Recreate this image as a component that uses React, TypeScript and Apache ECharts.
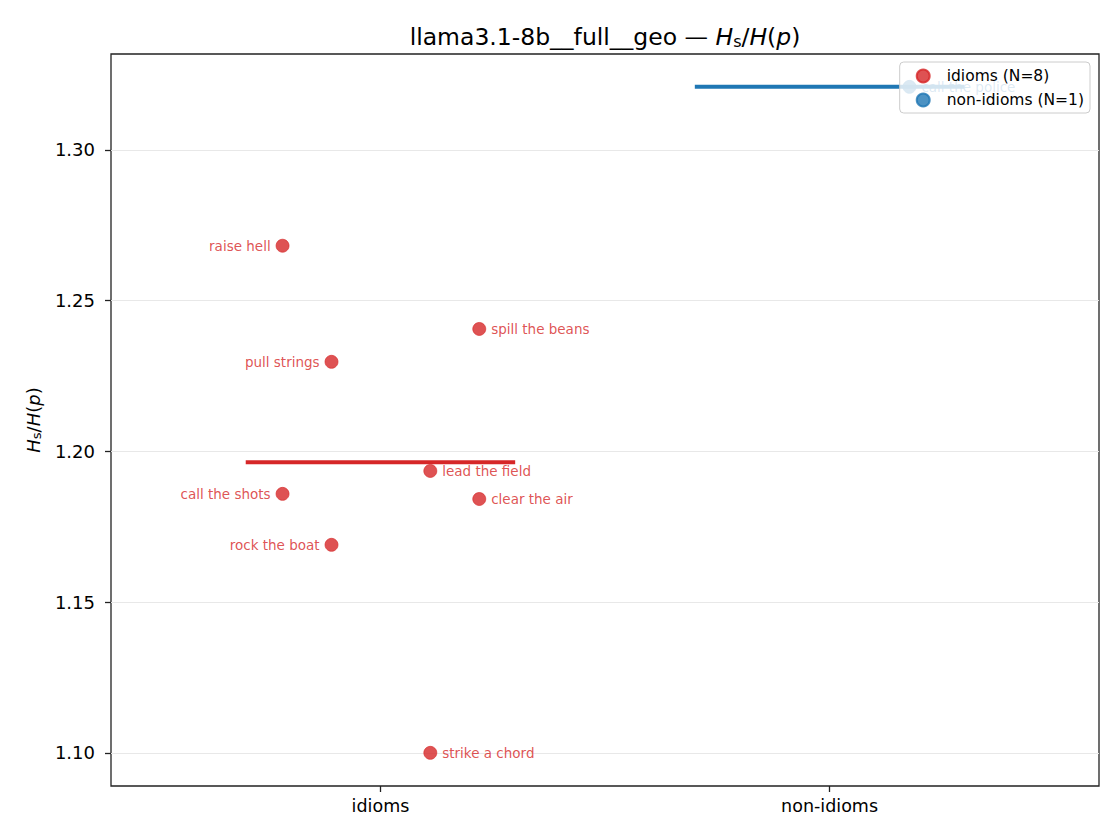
import { useEffect, useRef } from 'react';
import * as echarts from 'echarts';

const categories = ['idioms', 'non-idioms'];
const idiomNames = ['raise hell', 'spill the beans', 'pull strings', 'lead the field', 'call the shots', 'clear the air', 'rock the boat', 'strike a chord'];
const idiomOffsets = [-0.218, 0.22, -0.109, 0.111, -0.218, 0.22, -0.109, 0.111];
const idiomValues = [1.2682, 1.2406, 1.2297, 1.1935, 1.1859, 1.1842, 1.169, 1.1];
const nonIdiomNames = ['call the police'];
const nonIdiomOffsets = [0.178];
const nonIdiomValues = [1.3209];
const yTicks = [1.1, 1.15, 1.2, 1.25, 1.3];

const RED = '#d62728';
const BLUE = '#1f77b4';
const FONT = 'DejaVu Sans';

const mean = (a: number[]) => a.reduce((s, v) => s + v, 0) / a.length;

const points = (names: string[], offsets: number[], values: number[], cat: number) =>
  names.map((name, i) => ({
    name,
    value: [cat + offsets[i], values[i]],
    label: { position: offsets[i] < 0 ? 'left' : 'right' },
  }));

const App = () => {
  const ref = useRef<HTMLDivElement>(null);

  useEffect(() => {
    if (!ref.current) return;
    const chart = echarts.init(ref.current, null, { renderer: 'svg' });

    const groups = [
      { name: `idioms (N=${idiomValues.length})`, color: RED, data: points(idiomNames, idiomOffsets, idiomValues, 0), m: mean(idiomValues), cat: 0 },
      { name: `non-idioms (N=${nonIdiomValues.length})`, color: BLUE, data: points(nonIdiomNames, nonIdiomOffsets, nonIdiomValues, 1), m: mean(nonIdiomValues), cat: 1 },
    ];

    chart.setOption({
      animation: false,
      textStyle: { fontFamily: FONT },
      title: {
        text: 'llama3.1-8b__full__geo — {it|H}{sub|s}{n|/}{it|H}{n|(}{it|p}{n|)}',
        left: 600,
        top: 20,
        textAlign: 'center',
        textStyle: {
          fontFamily: FONT,
          fontSize: 23.5,
          fontWeight: 'normal',
          color: '#000',
          rich: {
            it: { fontFamily: FONT, fontSize: 23.5, fontStyle: 'italic', color: '#000' },
            n: { fontFamily: FONT, fontSize: 23.5, color: '#000' },
            sub: { fontFamily: FONT, fontSize: 16, color: '#000', padding: [8, 0, 0, 0] },
          },
        },
      },
      legend: {
        data: groups.map((g) => g.name),
        right: 30,
        top: 62,
        z: 20,
        orient: 'vertical',
        icon: 'circle',
        itemWidth: 13,
        itemHeight: 13,
        itemGap: 8,
        padding: [6, 6, 5, 16],
        backgroundColor: 'rgba(255,255,255,0.8)',
        borderColor: '#cccccc',
        borderWidth: 1,
        borderRadius: 4,
        itemStyle: { opacity: 0.8 },
        textStyle: { fontFamily: FONT, fontSize: 15.5, color: '#000', padding: [0, 0, 0, 12] },
      },
      grid: {
        left: 111,
        right: 21,
        top: 54,
        bottom: 54,
        show: true,
        borderColor: '#222',
        borderWidth: 1.3,
        backgroundColor: 'transparent',
      },
      xAxis: {
        type: 'value',
        min: -0.6,
        max: 1.6,
        axisLine: { show: false, onZero: false },
        splitLine: { show: false },
        axisTick: { show: true, length: 6, customValues: [0, 1], lineStyle: { color: '#222', width: 1.3 } },
        axisLabel: {
          customValues: [0, 1],
          margin: 11,
          fontSize: 17.5,
          color: '#000',
          fontFamily: FONT,
          formatter: (v: number) => categories[Math.round(v)] ?? '',
        },
      },
      yAxis: {
        type: 'value',
        min: 1.089,
        max: 1.3318,
        name: '{it|H}{sub|s}{n|/}{it|H}{n|(}{it|p}{n|)}',
        nameLocation: 'middle',
        nameGap: 68,
        nameRotate: 90,
        nameTextStyle: {
          fontFamily: FONT,
          fontSize: 18,
          color: '#000',
          rich: {
            it: { fontFamily: FONT, fontSize: 18, fontStyle: 'italic', color: '#000' },
            n: { fontFamily: FONT, fontSize: 18, color: '#000' },
            sub: { fontFamily: FONT, fontSize: 13, color: '#000', padding: [6, 0, 0, 0] },
          },
        },
        axisLine: { show: false, onZero: false },
        splitLine: { show: true, lineStyle: { color: '#e8e8e8', width: 1.2 } },
        axisTick: { show: true, length: 6, customValues: yTicks, lineStyle: { color: '#222', width: 1.3 } },
        axisLabel: {
          customValues: yTicks,
          margin: 16,
          fontSize: 18,
          color: '#000',
          fontFamily: FONT,
          formatter: (v: number) => v.toFixed(2),
        },
      },
      series: [
        ...groups.map((g) => ({
          type: 'line',
          name: g.name + ' mean',
          data: [
            [g.cat - 0.3, g.m],
            [g.cat + 0.3, g.m],
          ],
          symbol: 'none',
          silent: true,
          lineStyle: { color: g.color, width: 4 },
          z: 2,
        })),
        ...groups.map((g) => ({
          type: 'scatter',
          name: g.name,
          data: g.data,
          symbolSize: 13,
          itemStyle: { color: g.color, opacity: 0.8, borderColor: g.color, borderWidth: 0.8 },
          label: {
            show: true,
            formatter: '{b}',
            distance: 5,
            fontSize: 13.5,
            fontFamily: FONT,
            color: g.color,
          },
          z: 3,
        })),
      ],
    });

    return () => chart.dispose();
  }, []);

  return <div ref={ref} style={{ position: 'absolute', left: 0, top: 0, width: 1120, height: 840 }} />;
};

export default App;
